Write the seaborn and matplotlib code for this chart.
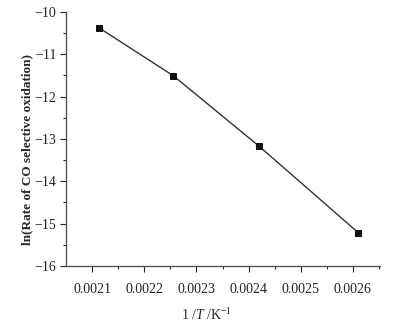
import pandas as pd
import matplotlib.pyplot as plt
import seaborn as sns

inv_temp = [0.002114, 0.002256, 0.002420, 0.002610]
ln_rate = [-10.38, -11.51, -13.17, -15.21]
x_ticks = [0.0021, 0.0022, 0.0023, 0.0024, 0.0025, 0.0026]
y_ticks = [-16, -15, -14, -13, -12, -11, -10]


def plot_arrhenius():
    df = pd.DataFrame({"invT": inv_temp, "lnr": ln_rate})

    sns.set_style("ticks")
    plt.rcParams["font.family"] = ["Liberation Serif", "DejaVu Serif"]
    plt.rcParams["mathtext.fontset"] = "custom"
    plt.rcParams["mathtext.it"] = "Liberation Serif:italic"
    plt.rcParams["mathtext.rm"] = "Liberation Serif"

    fig = plt.figure(figsize=(3.96, 3.23), dpi=100)
    ax = fig.add_axes([0.1667, 0.1765, 0.793, 0.7865])

    sns.lineplot(data=df, x="invT", y="lnr", ax=ax, color="#333333",
                 linewidth=1.0, marker="s", markersize=4.5,
                 markerfacecolor="#111111", markeredgecolor="#111111")

    ax.set_xlim(0.00205, 0.002652)
    ax.set_ylim(-16, -10)
    ax.set_xticks(x_ticks)
    ax.set_xticklabels([f"{v:.4f}" for v in x_ticks])
    ax.set_yticks(y_ticks)
    ax.set_yticklabels([f"\u2212{abs(v)}" for v in y_ticks])
    ax.set_xticks([v + 0.00005 for v in x_ticks], minor=True)
    ax.set_yticks([v + 0.5 for v in y_ticks[:-1]], minor=True)
    ax.tick_params(which="major", direction="out", length=4, width=0.8,
                   labelsize=10, colors="#222222", pad=3)
    ax.tick_params(which="minor", direction="out", length=2, width=0.8)
    ax.tick_params(axis="x", which="major", pad=8)

    for side in ["top", "right"]:
        ax.spines[side].set_visible(False)
    for side in ["left", "bottom"]:
        ax.spines[side].set_color("#555555")
        ax.spines[side].set_linewidth(1.0)

    ax.set_xlabel(r"1 /$\mathit{T}$ /K$^{-1}$", fontsize=10)
    ax.xaxis.set_label_coords(0.449, -0.16)
    ax.set_ylabel("ln(Rate of CO selective oxidation)", fontsize=9.5,
                  fontweight="bold")
    ax.yaxis.set_label_coords(-0.105, 0.46)

    fig.savefig("out.png", dpi=100)


if __name__ == "__main__":
    plot_arrhenius()
